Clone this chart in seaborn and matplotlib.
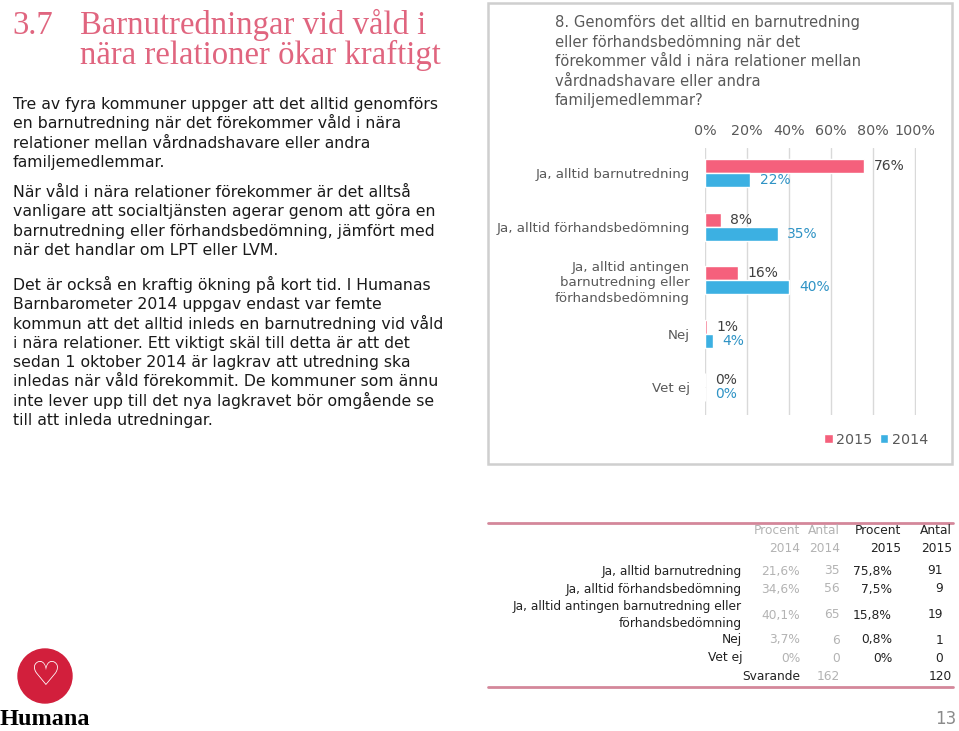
import matplotlib
matplotlib.use("Agg")
import matplotlib.pyplot as plt
import seaborn as sns
import pandas as pd
from matplotlib.patches import Rectangle, Ellipse
from matplotlib.lines import Line2D

# ---------------- data ----------------
categories = ["Ja, alltid barnutredning",
              "Ja, alltid förhandsbedömning",
              "Ja, alltid antingen\nbarnutredning eller\nförhandsbedömning",
              "Nej",
              "Vet ej"]
table_labels = ["Ja, alltid barnutredning",
                "Ja, alltid förhandsbedömning",
                "Ja, alltid antingen barnutredning eller\nförhandsbedömning",
                "Nej",
                "Vet ej"]
years = ["2015", "2014"]
pct_2015 = [75.8, 7.5, 15.8, 0.8, 0.0]
pct_2014 = [21.6, 34.6, 40.1, 3.7, 0.0]
n_2015 = [91, 9, 19, 1, 0]
n_2014 = [35, 56, 65, 6, 0]
svarande = {"2014": 162, "2015": 120}
x_ticks = [0, 20, 40, 60, 80, 100]

heading_num = "3.7"
heading_lines = ["Barnutredningar vid våld i", "nära relationer ökar kraftigt"]
chart_title = ["8. Genomförs det alltid en barnutredning",
               "eller förhandsbedömning när det",
               "förekommer våld i nära relationer mellan",
               "vårdnadshavare eller andra",
               "familjemedlemmar?"]
body = [
    ["Tre av fyra kommuner uppger att det alltid genomförs",
     "en barnutredning när det förekommer våld i nära",
     "relationer mellan vårdnadshavare eller andra",
     "familjemedlemmar."],
    ["När våld i nära relationer förekommer är det alltså",
     "vanligare att socialtjänsten agerar genom att göra en",
     "barnutredning eller förhandsbedömning, jämfört med",
     "när det handlar om LPT eller LVM."],
    ["Det är också en kraftig ökning på kort tid. I Humanas",
     "Barnbarometer 2014 uppgav endast var femte",
     "kommun att det alltid inleds en barnutredning vid våld",
     "i nära relationer. Ett viktigt skäl till detta är att det",
     "sedan 1 oktober 2014 är lagkrav att utredning ska",
     "inledas när våld förekommit. De kommuner som ännu",
     "inte lever upp till det nya lagkravet bör omgående se",
     "till att inleda utredningar."],
]

# ---------------- style ----------------
sns.set_theme(style="white")
plt.rcParams["font.family"] = ["DejaVu Sans"]

W, H = 959, 731
PINK = "#f5607c"
BLUE = "#3cb0e2"
GRAY = "#595959"
HEAD = "#e0657f"

fig = plt.figure(figsize=(W / 100, H / 100), dpi=100)
fig.patch.set_facecolor("white")


def fx(x):
    return x / W


def fy(y):
    return 1 - y / H


def ftext(x, y, s, **kw):
    kw.setdefault("va", "baseline")
    return fig.text(fx(x), fy(y), s, **kw)


# ---------------- heading ----------------
HFS = 23.6
ftext(12, 34, heading_num, color=HEAD, fontsize=HFS, family="Liberation Serif")
ftext(80, 34, heading_lines[0], color=HEAD, fontsize=HFS, family="Liberation Serif")
ftext(80, 64, heading_lines[1], color=HEAD, fontsize=HFS, family="Liberation Serif")

# ---------------- body text ----------------
starts = [109, 197, 290]
for para, y0 in zip(body, starts):
    for i, line in enumerate(para):
        ftext(13, y0 + i * 19.3, line, color="#1a1a1a", fontsize=11.3)

# ---------------- chart panel ----------------
fig.patches.append(Rectangle((fx(488), fy(464)), fx(952 - 488), (464 - 3) / H,
                             transform=fig.transFigure, fill=False,
                             ec="#cfcfcf", lw=1.8))
for i, line in enumerate(chart_title):
    ftext(555, 27 + i * 19.5, line, color=GRAY, fontsize=10.65)

df = pd.DataFrame({
    "cat": categories * 2,
    "year": [years[0]] * len(categories) + [years[1]] * len(categories),
    "pct": pct_2015 + pct_2014,
})

ax = fig.add_axes([fx(705), fy(415), 211 / W, 267 / H])
sns.barplot(data=df, x="pct", y="cat", hue="year", hue_order=years,
            order=categories, palette=[PINK, BLUE], orient="h",
            width=0.52, gap=0, saturation=1, errorbar=None, ax=ax)
ax.set_xlim(0, 100.5)
ax.set_ylim(4.52, -0.47)
ax.set_xticks(x_ticks)
ax.set_xticklabels([f"{t}%" for t in x_ticks])
ax.xaxis.tick_top()
ax.tick_params(axis="x", length=0, pad=7, labelsize=10.3, labelcolor=GRAY)
ax.tick_params(axis="y", length=0, pad=11, labelsize=9.6, labelcolor=GRAY)
for lab in ax.get_yticklabels():
    lab.set_linespacing(1.25)
    lab.set_ha("right")
ax.set_xlabel("")
ax.set_ylabel("")
ax.grid(axis="x", color="#d9d9d9", lw=1)
ax.set_axisbelow(True)
for s in ax.spines.values():
    s.set_visible(False)

label_colors = ["#404040", "#2f93c5"]
for cont, vals, col in zip(ax.containers, [pct_2015, pct_2014], label_colors):
    ax.bar_label(cont, labels=[f"{int(v + 0.5)}%" for v in vals],
                 padding=7, color=col, fontsize=10)

handles, labels = ax.get_legend_handles_labels()
if ax.get_legend() is not None:
    ax.get_legend().remove()
fig.legend(handles, labels, loc="center", bbox_to_anchor=(fx(876), fy(440)),
           bbox_transform=fig.transFigure, ncol=2, frameon=False,
           handlelength=0.6, handleheight=0.6, handletextpad=0.25,
           columnspacing=0.5, fontsize=10.3, labelcolor=GRAY)

# ---------------- table ----------------
LINE = "#d4879a"
fig.add_artist(Line2D([fx(488), fx(953)], [fy(523), fy(523)], color=LINE, lw=2))
fig.add_artist(Line2D([fx(488), fx(953)], [fy(687), fy(687)], color=LINE, lw=2))
LIGHT = "#b3b3b3"
DARK = "#222222"
TFS = 8.8


def fmt(v):
    return "0%" if v == 0 else f"{v:.1f}".replace(".", ",") + "%"


def tcell(x, y, s, color=DARK):
    fig.text(fx(x), fy(y), s, ha="right", va="center", fontsize=TFS, color=color)


tcell(800, 531, "Procent", LIGHT)
tcell(840, 531, "Antal", LIGHT)
tcell(901, 531, "Procent")
tcell(952, 531, "Antal")
tcell(800, 549, years[1], LIGHT)
tcell(840, 549, years[1], LIGHT)
tcell(901, 549, years[0])
tcell(952, 549, years[0])
row_y = [571, 589, 615, 640, 658]
for y, lab, p14, c14, p15, c15 in zip(row_y, table_labels, pct_2014, n_2014,
                                       pct_2015, n_2015):
    fig.text(fx(742), fy(y), lab, ha="right", va="center", fontsize=TFS,
             color=DARK, linespacing=1.35, multialignment="right")
    tcell(800, y, fmt(p14), LIGHT)
    tcell(840, y, str(c14), LIGHT)
    tcell(892, y, fmt(p15))
    tcell(943, y, str(c15))
tcell(800, 676, "Svarande")
tcell(840, 676, str(svarande["2014"]), LIGHT)
tcell(952, 676, str(svarande["2015"]))

# ---------------- logo & page number ----------------
fig.patches.append(Ellipse((fx(45), fy(676)), 54 / W, 54 / H,
                           transform=fig.transFigure, color="#d21f3c"))
fig.text(fx(46), fy(675), "♡", ha="center", va="center", color="white",
         fontsize=24, fontweight="bold")
ftext(0, 725, "Humana", color="black", fontsize=17.5, fontweight="bold",
      family="Liberation Serif")
ftext(956, 724, "13", ha="right", color="#8a8a8a", fontsize=12)

fig.savefig("out.png", dpi=100, facecolor="white")
